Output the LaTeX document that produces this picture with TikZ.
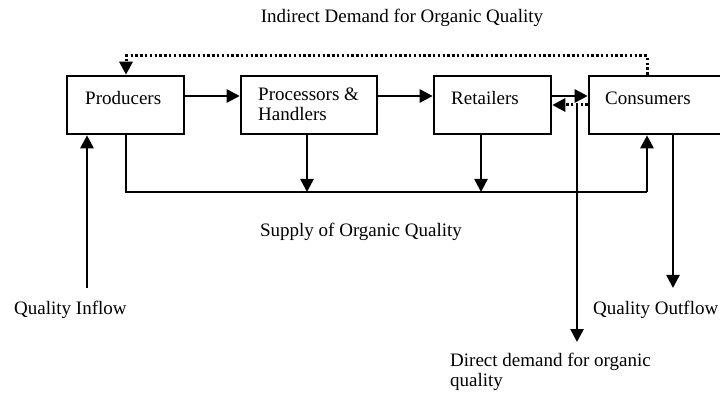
\documentclass[tikz,border=0pt]{standalone}
\usepackage{fontspec}
\setmainfont{Liberation Serif}
\usetikzlibrary{arrows.meta}
\begin{document}
\begin{tikzpicture}[x=1pt,y=-1pt,
  box/.style={draw,line width=2.6pt,rectangle,inner sep=0pt},
  txt/.style={font=\fontsize{19}{21}\selectfont,inner sep=0pt,align=left},
  tip/.style={-{Triangle[width=13pt,length=13pt]}},
  flow/.style={line width=2.6pt,tip},
  plain/.style={line width=2.6pt},
  dots/.style={line width=3pt,dash pattern=on 2.4pt off 2.4pt}]
\useasboundingbox (0,0) rectangle (720,395);
% boxes
\node[box,minimum width=117pt,minimum height=58pt] (prod) at (125.5,105) {};
\node[box,minimum width=136pt,minimum height=58pt] (proc) at (309,105) {};
\node[box,minimum width=117pt,minimum height=58pt] (ret) at (492.5,105) {};
\node[box,minimum width=136pt,minimum height=58pt] (cons) at (657,105) {};
% box texts
\node[txt,anchor=west] at (85,98) {Producers};
\node[txt,anchor=north west] at (258,88) {Processors \&\\[-1.5pt]Handlers};
\node[txt,anchor=west] at (451,98) {Retailers};
\node[txt,anchor=west] at (605,98) {Consumers};
% other labels
\node[txt] (lind) at (402,18) {Indirect Demand for Organic Quality};
\node[txt] (lsup) at (361,232) {Supply of Organic Quality};
\node[txt,anchor=west] (lin) at (14,310) {Quality Inflow};
\node[txt,anchor=west] (lout) at (593,310) {Quality Outflow};
\node[txt,anchor=north west] (ldir) at (450,353) {Direct demand for organic\\[-1pt]quality};
% coordinates
\coordinate (sp0) at (126,192);
\coordinate (sp1) at (647,192);
\coordinate (d0) at (647,56);
\coordinate (d1) at (126,56);
\coordinate (inb) at (87,288);
\coordinate (outb) at (673,288);
\coordinate (dd0) at (577,105);
\coordinate (dd1) at (577,342);
% chain arrows
\draw[flow] (prod.east |- 0,96) -- (proc.west |- 0,96);
\draw[flow] (proc.east |- 0,96) -- (ret.west |- 0,96);
\draw[flow] (ret.east |- 0,96) -- (cons.west |- 0,96);
% dotted back arrow
\draw[dots,tip] (cons.west |- 0,105) -- (ret.east |- 0,105);
% indirect demand dotted
\draw[dots,tip] (cons.north -| d0) -- (d0) -- (d1) -- (prod.north -| d1);
% supply line
\draw[plain] (prod.south -| sp0) -- (sp0) -- (sp1);
\draw[flow] (sp1) -- (cons.south -| sp1);
\draw[flow] (proc.south -| 307,0) -- (307,192);
\draw[flow] (ret.south -| 481,0) -- (481,192);
% inflow / outflow
\draw[flow] (inb) -- (prod.south -| inb);
\draw[flow] (cons.south -| outb) -- (outb);
% direct demand
\draw[flow] (dd0) -- (dd1);
\end{tikzpicture}
\end{document}
